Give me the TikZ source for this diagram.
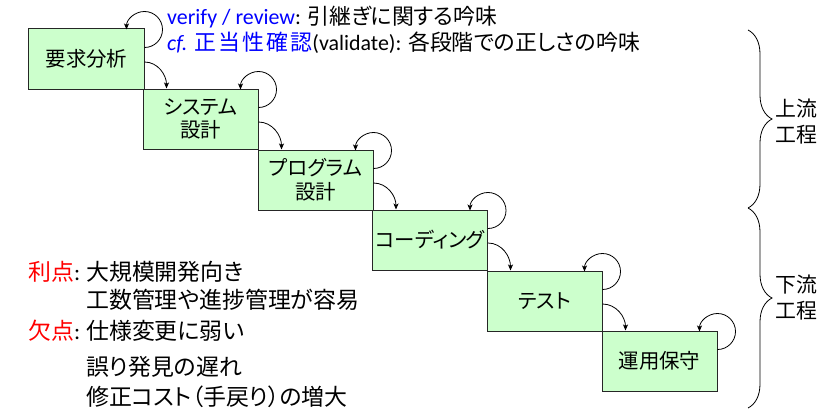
\documentclass[tikz,border=0pt]{standalone}
\usepackage{fontspec}
\setmainfont{Carlito}
\newfontfamily\jp[RawFeature=+palt]{Noto Sans CJK JP}
\usetikzlibrary{arrows.meta, decorations.pathreplacing}
\definecolor{phasegreen}{RGB}{204,255,204}
\tikzset{phase/.style={draw=black!85, line width=1bp, fill=phasegreen,
    minimum width=115bp, minimum height=60bp, inner sep=0pt, align=center,
    font={\jp\fontsize{20.5}{24}\selectfont}},
  self loop/.style={line width=0.8bp, -{Stealth[length=6bp, width=5bp, inset=1.5bp]}},
  next step/.style={self loop, out=0, in=90},
  note/.style={anchor=west, inner sep=0pt, font={\fontsize{23}{27}\selectfont}},
  phase brace/.style={line width=0.8bp, decorate, decoration={brace, amplitude=24bp, #1}},
}

\begin{document}
\begin{tikzpicture}[x=1bp, y=1bp]
                    \useasboundingbox (0,0) rectangle (840,410);
                    %Phases, one step down each
                    \node[phase] (s1) at (86.5, 351) {要求分析};
                    \node[phase] (s2) at (200.5, 291) {システム\\設計};
                    \node[phase] (s3) at (315.5, 230) {プログラム\\設計};
                    \node[phase] (s4) at (430, 170) {コーディング};
                    \node[phase] (s5) at (544.5, 109) {テスト};
                    \node[phase] (s6) at (659.5, 49) {運用保守};
                    %Review loops
                    \draw[self loop] ([yshift=-19bp]s1.north east) arc[start angle=-90, end angle=180, radius=18bp];
                    \draw[self loop] ([yshift=-19bp]s2.north east) arc[start angle=-90, end angle=180, radius=18bp];
                    \draw[self loop] ([yshift=-19bp]s3.north east) arc[start angle=-90, end angle=180, radius=18bp];
                    \draw[self loop] ([yshift=-19bp]s4.north east) arc[start angle=-90, end angle=180, radius=18bp];
                    \draw[self loop] ([yshift=-19bp]s5.north east) arc[start angle=-90, end angle=180, radius=18bp];
                    \draw[self loop] ([yshift=-19bp]s6.north east) arc[start angle=-90, end angle=180, radius=18bp];
                    %Hand over to the next phase
                    \draw[next step] ([yshift=-3bp]s1.east) to ([xshift=24bp]s2.north west);
                    \draw[next step] ([yshift=-3bp]s2.east) to ([xshift=24bp]s3.north west);
                    \draw[next step] ([yshift=-3bp]s3.east) to ([xshift=24bp]s4.north west);
                    \draw[next step] ([yshift=-3bp]s4.east) to ([xshift=24bp]s5.north west);
                    \draw[next step] ([yshift=-3bp]s5.east) to ([xshift=24bp]s6.north west);
                    %Top notes
                    \node[note, font={\fontsize{22}{25}\selectfont}] (verify) at (167, 392.5)
                        {\textcolor{blue}{verify / review}: {\jp 引継ぎに関する吟味}};
                    \node[note, font={\fontsize{22}{25}\selectfont}] (validate) at (167, 367)
                        {\textcolor{blue}{\textit{cf.} {\jp\addfontfeature{LetterSpace=10}正当性確認}}(validate): {\jp 各段階での正しさの吟味}};
                    %Merits and demerits
                    \node[note] (merit) at (28, 138) {\textcolor{red}{\jp 利点}:};
                    \node[note] (m1) at (86, 138) {\jp 大規模開発向き};
                    \node[note] (m2) at (86, 110) {\jp 工数管理や進捗管理が容易};
                    \node[note] (demerit) at (28, 79) {\textcolor{red}{\jp 欠点}:};
                    \node[note] (d1) at (86, 79) {\jp 仕様変更に弱い};
                    \node[note] (d2) at (86, 43) {\jp 誤り発見の遅れ};
                    \node[note] (d3) at (86, 13) {\jp 修正コスト（手戻り）の増大};
                    %Upper and lower streams
                    \coordinate (up top) at (748, 380);
                    \coordinate (split) at (748, 202);
                    \coordinate (low end) at (748, 2);
                    \draw[phase brace={aspect=0.5}] (up top) -- (split);
                    \draw[phase brace={aspect=0.45}] (split) -- (low end);
                    \node[align=center, font={\jp\fontsize{21}{26.5}\selectfont}] (upper) at (796, 288.5) {上流\\工程};
                    \node[align=center, font={\jp\fontsize{21}{26.5}\selectfont}] (lower) at (796, 112.5) {下流\\工程};
                \end{tikzpicture}
\end{document}
